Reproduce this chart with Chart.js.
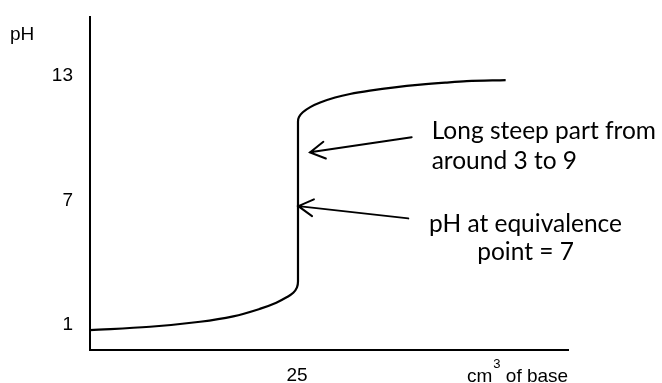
<!DOCTYPE html>
<html>
<head>
<meta charset="utf-8">
<script src="https://cdn.jsdelivr.net/npm/chart.js@4/dist/chart.umd.min.js"></script>
<style>
  html, body { margin: 0; padding: 0; background: #fff; }
</style>
</head>
<body>
<canvas id="titration" width="662" height="383"></canvas>
<script>
// volume of base added (cm3) and the pH
const baseVolume = [0, 7.25, 13.3, 17.3, 20.5, 22.5, 23.8, 24.55, 25.0, 25.12, 25.12, 25.24, 25.7, 26.6, 27.8, 29.6, 31.4, 33.8, 36.8, 39.9, 42.9, 45.5, 50.2]
const phValues = [0.76, 0.92, 1.16, 1.42, 1.78, 2.08, 2.35, 2.56, 2.82, 3.1, 10.8, 11.02, 11.25, 11.5, 11.72, 11.96, 12.13, 12.29, 12.45, 12.58, 12.68, 12.75, 12.8]

const yTicks = [1, 7, 13]
const xTicks = [25]
const yTitle = 'pH'
const xTitle = ['cm', '3', ' of base']

// annotations, in data units
const steepNote = ['Long steep part from', 'around 3 to 9']
const equivNote = ['pH at equivalence', 'point = 7']
const arrows = [
  { from: [38.85, 10.05], to: [26.57, 9.32] },
  { from: [38.44, 6.14], to: [25.16, 6.73] }
]

const axisFont = "'Liberation Sans', Arial, sans-serif"
const noteFont = "Lato, 'Open Sans', sans-serif"

const notes = {
  id: 'notes',
  afterDraw(chart) {
    const { ctx } = chart
    const xs = chart.scales.x
    const ys = chart.scales.y
    ctx.save()
    ctx.fillStyle = '#000'
    ctx.strokeStyle = '#000'

    // axis titles
    ctx.font = '19px ' + axisFont
    ctx.textBaseline = 'alphabetic'
    ctx.textAlign = 'left'
    ctx.fillText(yTitle, 10, 40)
    let tx = 467
    ctx.fillText(xTitle[0], tx, 381.5)
    tx += ctx.measureText(xTitle[0]).width
    ctx.font = '13px ' + axisFont
    ctx.fillText(xTitle[1], tx + 1, 367.5)
    tx += ctx.measureText(xTitle[1]).width + 1
    ctx.font = '19px ' + axisFont
    ctx.fillText(xTitle[2], tx, 381.5)

    // text notes
    ctx.font = '24.5px ' + noteFont
    ctx.textAlign = 'left'
    ctx.fillText(steepNote[0], xs.getPixelForValue(41.26), ys.getPixelForValue(9.95))
    ctx.fillText(steepNote[1], xs.getPixelForValue(41.26), ys.getPixelForValue(8.5))
    ctx.textAlign = 'center'
    ctx.fillText(equivNote[0], xs.getPixelForValue(52.6), ys.getPixelForValue(5.5))
    ctx.fillText(equivNote[1], xs.getPixelForValue(52.6), ys.getPixelForValue(4.13))

    // arrows
    ctx.lineWidth = 2
    ctx.lineCap = 'round'
    arrows.forEach(a => {
      const x1 = xs.getPixelForValue(a.from[0]), y1 = ys.getPixelForValue(a.from[1])
      const x2 = xs.getPixelForValue(a.to[0]), y2 = ys.getPixelForValue(a.to[1])
      const ang = Math.atan2(y1 - y2, x1 - x2)
      ctx.beginPath()
      ctx.moveTo(x1, y1)
      ctx.lineTo(x2, y2)
      ctx.moveTo(x2 + 17 * Math.cos(ang - 0.52), y2 + 17 * Math.sin(ang - 0.52))
      ctx.lineTo(x2, y2)
      ctx.lineTo(x2 + 17 * Math.cos(ang + 0.52), y2 + 17 * Math.sin(ang + 0.52))
      ctx.stroke()
    })
    ctx.restore()
  }
}

const noEdgePadding = s => {
  s.paddingTop = 0
  s.paddingBottom = 0
  s.paddingLeft = 0
  s.paddingRight = 0
}

new Chart(document.getElementById('titration'), {
  type: 'scatter',
  data: {
    datasets: [{
      data: baseVolume.map((v, i) => ({ x: v, y: phValues[i] })),
      showLine: true,
      borderColor: '#000',
      borderWidth: 2.2,
      pointRadius: 0,
      tension: 0.35
    }]
  },
  options: {
    responsive: false,
    devicePixelRatio: 1,
    animation: false,
    layout: { padding: { top: 17, right: 94, left: 0, bottom: 0 } },
    plugins: { legend: { display: false }, tooltip: { enabled: false } },
    scales: {
      x: {
        type: 'linear',
        min: 0,
        max: 57.73,
        grid: { display: false, drawTicks: false },
        border: { display: true, color: '#000', width: 2 },
        ticks: {
          color: '#000',
          font: { family: axisFont, size: 19 },
          padding: 14,
          maxRotation: 0,
          autoSkip: false
        },
        afterBuildTicks: s => { s.ticks = xTicks.map(v => ({ value: v })) },
        afterFit: s => { s.height = 33; noEdgePadding(s) }
      },
      y: {
        type: 'linear',
        min: -0.2,
        max: 15.84,
        grid: { display: false, drawTicks: false },
        border: { display: true, color: '#000', width: 2 },
        ticks: {
          color: '#000',
          font: { family: axisFont, size: 19 },
          padding: 17,
          autoSkip: false
        },
        afterBuildTicks: s => { s.ticks = yTicks.map(v => ({ value: v })) },
        afterFit: s => { s.width = 90; noEdgePadding(s) }
      }
    }
  },
  plugins: [notes]
})
</script>
</body>
</html>
